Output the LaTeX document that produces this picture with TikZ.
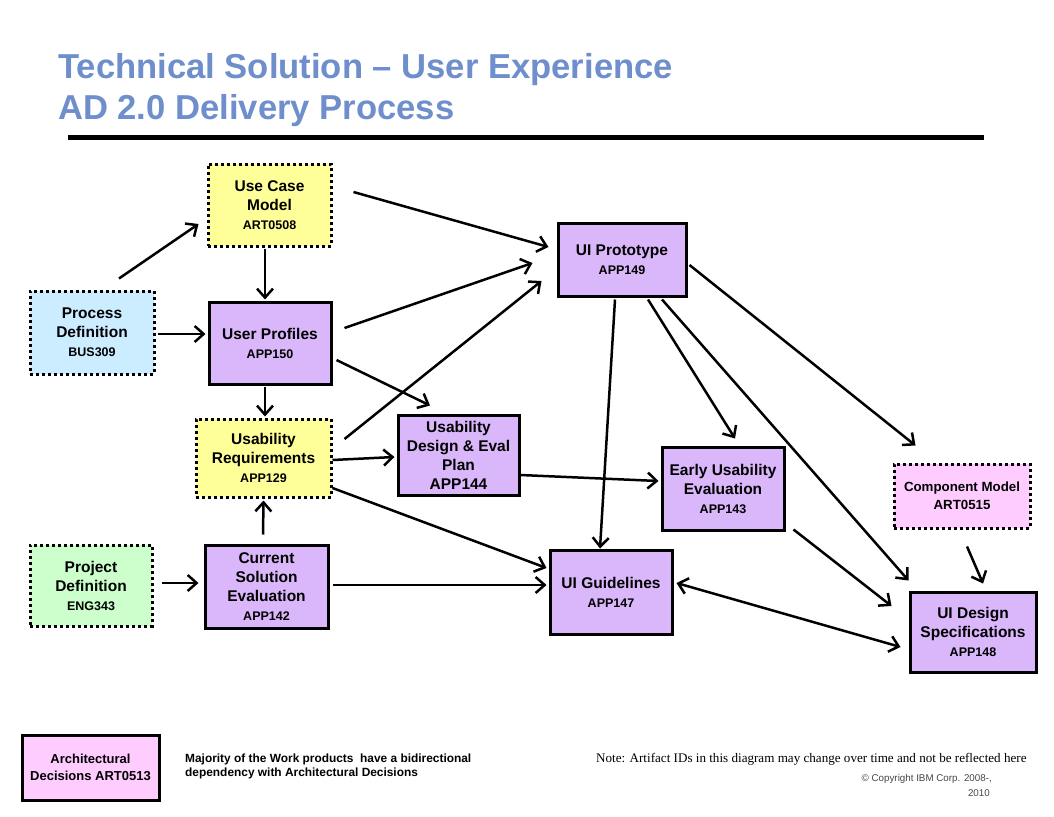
\documentclass[tikz,border=0pt]{standalone}
\usepackage{fontspec}
\setmainfont{Liberation Sans}
\newfontfamily\notefont{Liberation Serif}
\usetikzlibrary{arrows.meta,calc}
\definecolor{ttlblue}{RGB}{110,142,204}
\definecolor{cyel}{RGB}{255,255,153}
\definecolor{cblue}{RGB}{204,236,255}
\definecolor{cgreen}{RGB}{204,255,204}
\definecolor{cpurp}{RGB}{218,182,250}
\definecolor{cpink}{RGB}{255,204,255}
\definecolor{cgray}{RGB}{70,70,70}
\newcommand\idtxt[1]{{\fontsize{12.5}{15}\selectfont #1}}
\tikzset{
  wp/.style={draw, line width=3pt, align=center, inner sep=0pt,
    font=\fontsize{15.5}{19}\selectfont\bfseries},
  solidbox/.style={wp, fill=cpurp},
  dotbox/.style={wp, dash pattern=on 3pt off 3pt},
  arr/.style={line width=2.5pt, -{Straight Barb[length=9pt,width=16pt]}},
  darr/.style={line width=2.5pt, {Straight Barb[length=9pt,width=16pt]}-{Straight Barb[length=9pt,width=16pt]}},
}
\begin{document}
\begin{tikzpicture}[x=1pt,y=-1pt]
\fill[white] (0,0) rectangle (1054,816);
\useasboundingbox (0,0) rectangle (1054,816);
% title
\node[anchor=base west, inner sep=0, text=ttlblue, font=\fontsize{34.6}{40}\selectfont\bfseries] (t1) at (58,78) {Technical Solution -- User Experience};
\node[anchor=base west, inner sep=0, text=ttlblue, font=\fontsize{34.6}{40}\selectfont\bfseries] (t2) at (58,119) {AD 2.0 Delivery Process};
\draw[line width=5pt] (68,137) -- (984,137);
% nodes
\node[dotbox, fill=cyel, minimum width=123pt, minimum height=82pt] (uc) at (269.5,205) {Use Case\\Model\\\idtxt{ART0508}};
\node[dotbox, fill=cblue, minimum width=124pt, minimum height=83pt] (pd) at (92,332.5) {Process\\Definition\\\idtxt{BUS309}};
\node[solidbox, minimum width=122pt, minimum height=82pt] (up) at (270,343) {User Profiles\\\idtxt{APP150}};
\node[dotbox, fill=cyel, minimum width=135pt, minimum height=78pt] (ur) at (263.5,458) {Usability\\Requirements\\\idtxt{APP129}};
\node[solidbox, minimum width=121pt, minimum height=80pt] (ud) at (458.5,455) {Usability\\Design \& Eval\\Plan\\APP144};
\node[solidbox, minimum width=123pt, minimum height=83pt] (cs) at (266.5,586.5) {Current\\Solution\\Evaluation\\\idtxt{APP142}};
\node[dotbox, fill=cgreen, minimum width=122pt, minimum height=81pt] (pj) at (91,585.5) {Project\\Definition\\\idtxt{ENG343}};
\node[solidbox, minimum width=128pt, minimum height=73pt] (pt) at (622,259.5) {UI Prototype\\\idtxt{APP149}};
\node[solidbox, minimum width=122pt, minimum height=84pt] (ug) at (611,592) {UI Guidelines\\\idtxt{APP147}};
\node[solidbox, minimum width=122pt, minimum height=83pt] (eu) at (723,488.5) {Early Usability\\Evaluation\\\idtxt{APP143}};
\node[dotbox, fill=cpink, minimum width=136pt, minimum height=64pt, font=\fontsize{13.3}{18}\selectfont\bfseries] (cm) at (962,496) {Component Model\\ART0515};
\node[solidbox, minimum width=126pt, minimum height=80pt] (ds) at (973,632) {UI Design\\Specifications\\\idtxt{APP148}};
\node[wp, fill=cpink, minimum width=137pt, minimum height=65pt, font=\fontsize{13}{16.5}\selectfont\bfseries] (ad) at (90.5,767.5) {Architectural\\Decisions ART0513};
% texts
\node[anchor=north west, inner sep=0, align=left, font=\fontsize{11.9}{14}\selectfont\bfseries] (maj) at (185,754) {Majority of the Work products~ have a bidirectional\\dependency with Architectural Decisions};
\node[anchor=base west, inner sep=0, font=\notefont\fontsize{13.1}{15}\selectfont] (note) at (596,762) {Note: Artifact IDs in this diagram may change over time and not be reflected here};
\node[anchor=base east, inner sep=0, text=cgray, font=\fontsize{9.8}{12}\selectfont] (copy1) at (992,781) {\textcopyright{} Copyright IBM Corp. 2008-,};
\node[anchor=base east, inner sep=0, text=cgray, font=\fontsize{9.8}{12}\selectfont] (copy2) at (990,796) {2010};
% connectors
\draw[arr] ($(pd.north)+(27,-11)$) -- ($(uc.west)+(-8,19)$);
\draw[arr] ($(pd.east)+(2,1.5)$) -- ($(up.west)+(-2,-9)$);
\draw[arr] ($(uc.south)+(-4.5,1)$) -- ($(up.north)+(-5,-1)$);
\draw[arr] ($(uc.east)+(21,-13)$) -- ($(pt.west)+(-8,-12.5)$);
\draw[arr] ($(up.east)+(12,-15)$) -- ($(pt.west)+(-24,3.5)$);
\draw[arr] ($(up.east)+(4,17)$) -- ($(ud.north)+(-28.5,-8)$);
\draw[arr] ($(up.south)+(-5,1)$) -- ($(ur.north)+(1.5,-1)$);
\draw[arr] ($(ur.east)+(12,-19)$) -- ($(pt.west)+(-15,21.5)$);
\draw[arr] ($(ur.east)+(0,2)$) -- ($(ud.west)+(-2,2)$);
\draw[arr] ($(ur.east)+(0,30)$) -- ($(ug.west)+(-2,-24)$);
\draw[arr] ($(cs.north)+(-3.5,-9)$) -- ($(ur.south)+(0,2)$);
\draw[arr] ($(pj.east)+(8,-2.5)$) -- ($(cs.west)+(-5,-3.5)$);
\draw[arr] ($(cs.east)+(3,-1.5)$) -- ($(ug.west)+(-2,-7)$);
\draw[arr] ($(ud.east)+(0,20)$) -- ($(eu.west)+(-2,-7.5)$);
\draw[arr] ($(pt.south)+(-7,2)$) -- ($(ug.north)+(-11,0)$);
\draw[arr] ($(pt.south)+(26,2)$) -- ($(eu.north)+(12,-7)$);
\draw[arr] ($(pt.south)+(40,2)$) -- ($(ds.north west)+(0,-10)$);
\draw[arr] ($(pt.east)+(2,5.5)$) -- ($(cm.north west)+(23,-17)$);
\draw[arr] ($(eu.south east)+(8,-2)$) -- ($(ds.west)+(-17,-26)$);
\draw[arr] ($(cm.south)+(5,17)$) -- ($(ds.north)+(10,-7)$);
\draw[darr] ($(ug.east)+(3,-9)$) -- ($(ds.west)+(-8,15)$);
\end{tikzpicture}
\end{document}
